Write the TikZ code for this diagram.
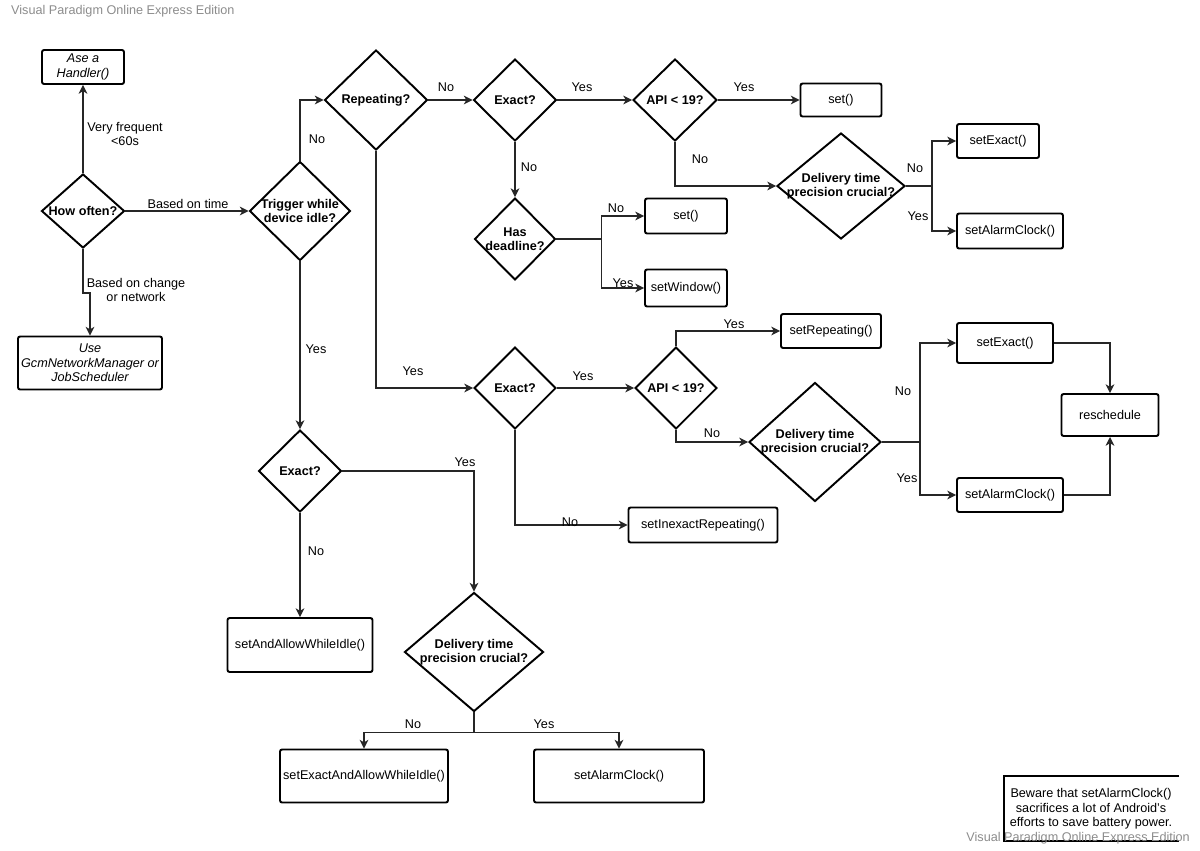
\documentclass[tikz,border=0pt]{standalone}
\usepackage{fontspec}
\setmainfont{Liberation Sans}
\usetikzlibrary{shapes.geometric,arrows.meta}
\newdimen\pxu \pxu=0.02cm
\newcommand\dgfont{\fontsize{7.2}{8.2}\selectfont}
\tikzset{
	box/.style={draw, line width=1.1pt, rounded corners=1.2pt, align=center, inner sep=1pt},
	dec/.style={diamond, draw, line width=1.1pt, inner sep=0pt},
	dtxt/.style={font=\dgfont\bfseries, align=center, inner sep=0pt},
	con/.style={line width=0.7pt, draw=black!85, -{Stealth[length=5pt,width=5pt,inset=1.5pt]}},
	lbl/.style={font=\dgfont, align=center, inner sep=0pt},
	sz/.style 2 args={minimum width=#1\pxu, minimum height=#2\pxu},
}
\begin{document}
\begin{tikzpicture}[x=0.02cm, y=-0.02cm, font=\dgfont]
		\useasboundingbox (0,0) rectangle (1200,850);
		\node[text=black!45, anchor=west] (wmA) at (5,11) {Visual Paradigm Online Express Edition};
		% decisions
		\node[dec, sz={83}{74}, label={[dtxt]center:How often?}] (how) at (83,211) {};
		\node[dec, sz={101}{99}, label={[dtxt]center:Trigger while\\device idle?}] (trig) at (300,211) {};
		\node[dec, sz={103}{100}, label={[dtxt]center:Repeating?}] (rep) at (376,100) {};
		\node[dec, sz={83}{82}, label={[dtxt]center:Exact?}] (exA) at (515,100) {};
		\node[dec, sz={84}{82}, label={[dtxt]center:API < 19?}] (apiA) at (675,100) {};
		\node[dec, sz={81}{82}, label={[dtxt]center:Has\\deadline?}] (dead) at (515,239) {};
		\node[dec, sz={128}{106}, label={[dtxt]center:Delivery time\\precision crucial?}] (delA) at (841,186) {};
		\node[dec, sz={82}{82}, label={[dtxt]center:Exact?}] (exB) at (515,388) {};
		\node[dec, sz={82}{82}, label={[dtxt]center:API < 19?}] (apiB) at (676,388) {};
		\node[dec, sz={132}{119}, label={[dtxt]center:Delivery time\\precision crucial?}] (delB) at (815,442) {};
		\node[dec, sz={83}{82}, label={[dtxt]center:Exact?}] (exC) at (300,471) {};
		\node[dec, sz={139}{119}, label={[dtxt]center:Delivery time\\precision crucial?}] (delC) at (474,652) {};
		% actions
		\node[box, sz={82}{34}, font=\dgfont\itshape] (hdl) at (83,67) {Ase a\\Handler()};
		\node[box, sz={144}{53}, font=\dgfont\itshape] (gcm) at (90,363) {Use\\GcmNetworkManager or\\JobScheduler};
		\node[box, sz={81}{33}] (setA) at (841,100) {set()};
		\node[box, sz={82}{35}] (setB) at (686,216) {set()};
		\node[box, sz={82}{37}] (win) at (686,288) {setWindow()};
		\node[box, sz={82}{34}] (exactA) at (998,141) {setExact()};
		\node[box, sz={106}{35}] (alarmA) at (1010,231) {setAlarmClock()};
		\node[box, sz={100}{34}] (rpt) at (831,331) {setRepeating()};
		\node[box, sz={96}{40}] (exactB) at (1005,343) {setExact()};
		\node[box, sz={106}{34}] (alarmB) at (1010,495) {setAlarmClock()};
		\node[box, sz={97}{42}] (resch) at (1110,415) {reschedule};
		\node[box, sz={149}{35}] (inex) at (703,525) {setInexactRepeating()};
		\node[box, sz={145}{54}] (allow) at (300,645) {setAndAllowWhileIdle()};
		\node[box, sz={168}{53}] (exallow) at (364,776) {setExactAndAllowWhileIdle()};
		\node[box, sz={170}{53}] (alarmC) at (619,776) {setAlarmClock()};
		% connectors
		\draw[con] (how.north) -- (hdl.south);
		\draw[con] (how.east) -- (trig.west);
		\draw[con] (how.south) -- ++(0,44) -| (gcm.north);
		\draw[con] (trig.north) |- (rep.west);
		\draw[con] (trig.south) -- (exC.north);
		\draw[con] (rep.east) -- (exA.west);
		\draw[con] (rep.south) |- (exB.west);
		\draw[con] (exA.east) -- (apiA.west);
		\draw[con] (exA.south) -- (dead.north);
		\draw[con] (apiA.east) -- (setA.west);
		\draw[con] (apiA.south) |- (delA.west);
		\draw[con] (dead.east) -- ++(45,0) |- (setB.west);
		\draw[con] (dead.east) -- ++(45,0) |- (win.west);
		\draw[con] (delA.east) -- ++(26,0) |- (exactA.west);
		\draw[con] (delA.east) -- ++(26,0) |- (alarmA.west);
		\draw[con] (exB.east) -- (apiB.west);
		\draw[con] (apiB.north) |- (rpt.west);
		\draw[con] (apiB.south) |- (delB.west);
		\draw[con] (exB.south) |- (inex.west);
		\draw[con] (delB.east) -- ++(38,0) |- (exactB.west);
		\draw[con] (delB.east) -- ++(38,0) |- (alarmB.west);
		\draw[con] (exactB.east) -| (resch.north);
		\draw[con] (alarmB.east) -| (resch.south);
		\draw[con] (exC.east) -| (delC.north);
		\draw[con] (exC.south) -- (allow.north);
		\draw[con] (delC.south) -- ++(0,20) -| (exallow.north);
		\draw[con] (delC.south) -- ++(0,20) -| (alarmC.north);
		% labels
		\node[lbl] (lFreq) at (125,134) {Very frequent\\<60s};
		\node[lbl] (lTime) at (188,204) {Based on time};
		\node[lbl] (lChange) at (136,290) {Based on change\\or network};
		\node[lbl] (lTrigNo) at (317,139) {No};
		\node[lbl] (lTrigYes) at (316,349) {Yes};
		\node[lbl] (lRepNo) at (446,87) {No};
		\node[lbl] (lExAYes) at (582,87) {Yes};
		\node[lbl] (lApiAYes) at (744,87) {Yes};
		\node[lbl] (lExANo) at (529,167) {No};
		\node[lbl] (lDeadNo) at (616,208) {No};
		\node[lbl] (lDeadYes) at (623,283) {Yes};
		\node[lbl] (lApiANo) at (700,159) {No};
		\node[lbl] (lDelANo) at (915,168) {No};
		\node[lbl] (lDelAYes) at (918,216) {Yes};
		\node[lbl] (lRepYes) at (413,371) {Yes};
		\node[lbl] (lExBYes) at (583,376) {Yes};
		\node[lbl] (lApiBYes) at (734,324) {Yes};
		\node[lbl] (lApiBNo) at (712,433) {No};
		\node[lbl] (lDelBNo) at (903,391) {No};
		\node[lbl] (lDelBYes) at (907,478) {Yes};
		\node[lbl] (lExBNo) at (570,522) {No};
		\node[lbl] (lExCYes) at (465,462) {Yes};
		\node[lbl] (lExCNo) at (316,551) {No};
		\node[lbl] (lDelCNo) at (413,724) {No};
		\node[lbl] (lDelCYes) at (544,724) {Yes};
		% note
		\draw[line width=1.1pt] (1179,776) -- (1004,776) -- (1004,841) -- (1179,841);
		\node[lbl] (note) at (1091,809) {Beware that setAlarmClock()\\sacrifices a lot of Android's\\efforts to save battery power.};
		\node[text=black!45, anchor=east] (wmB) at (1196,838) {Visual Paradigm Online Express Edition};
	\end{tikzpicture}
\end{document}
